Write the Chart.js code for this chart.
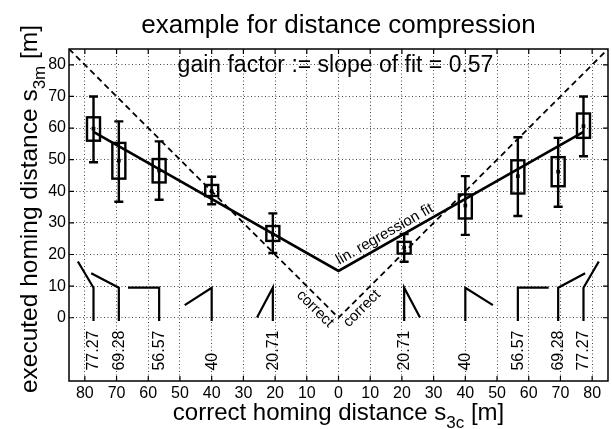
<!DOCTYPE html>
<html><head><meta charset="utf-8">
<script src="https://cdn.jsdelivr.net/npm/chart.js@4.4.0/dist/chart.umd.min.js"></script>
<style>html,body{margin:0;padding:0;background:#fff;} #wrap{width:612px;height:429px;}</style>
</head><body><div id="wrap"><canvas id="c" width="612" height="429"></canvas></div>
<script>
const FONT = '"Liberation Sans", Arial, Helvetica, sans-serif';

// correct homing distances (signed: left half mirrored)
const distances   = [-77.27, -69.28, -56.57, -40, -20.71, 20.71, 40, 56.57, 69.28, 77.27];
const valueLabels = ['77.27','69.28','56.57','40','20.71','20.71','40','56.57','69.28','77.27'];
// executed homing distances
const meanValues  = [59.8, 49.7, 46.6, 40.0, 26.3, 22.2, 35.5, 44.8, 46.2, 60.6];
const boxLow      = [56.0, 44.0, 42.8, 38.5, 24.3, 20.3, 31.4, 39.3, 41.6, 56.9];
const boxHigh     = [63.4, 55.3, 50.2, 42.0, 29.0, 24.0, 39.0, 49.8, 50.8, 64.6];
const whiskerLow  = [49.2, 36.7, 37.3, 35.9, 20.5, 17.7, 26.2, 32.2, 35.1, 51.1];
const whiskerHigh = [70.0, 62.1, 55.8, 44.6, 33.0, 26.5, 44.8, 57.1, 56.9, 70.0];

// linear regression fit (V shape) and correct line
const fitX = [-77.27, 0, 77.27];
const fitY = [58.8, 14.8, 58.8];
const correctX = [-85, 0, 85];
const correctY = [85, 0, 85];

// path sketches (two legs) drawn at each distance
const legBottom = -1;
const legTop = 9.5;
const legEndX = [-82.2, -78.0, -66.4, -48.5, -25.7, 25.7, 48.7, 66.3, 77.8, 82.1];
const legEndY = [17.8, 14.1, 9.5, 4.0, 0.1, 0.1, 4.0, 9.5, 14.1, 17.8];
const labelBottomY = -16.7;

const xTicks = [-80,-70,-60,-50,-40,-30,-20,-10,0,10,20,30,40,50,60,70,80];
const yTicks = [0,10,20,30,40,50,60,70,80];
const xRange = [-85, 85];
const yRange = [-20, 85];

const titleText = 'example for distance compression';
const gainText = 'gain factor := slope of fit = 0.57';
const fitLabel = {text:'lin. regression fit', x:14.6, y:26.4};
const correctLabels = [{text:'correct', x:-7.4, y:2.8, side:-1},{text:'correct', x:7.4, y:2.9, side:1}];

function richText(ctx, parts, size, cx, baseY){
  let w = 0;
  const widths = parts.map(p=>{
    ctx.font = (p.sub? Math.round(size*0.7): size) + 'px ' + FONT;
    const m = ctx.measureText(p.t).width; w += m; return m;
  });
  let x = cx - w/2;
  parts.forEach((p,i)=>{
    ctx.font = (p.sub? Math.round(size*0.7): size) + 'px ' + FONT;
    ctx.textAlign='left'; ctx.textBaseline='alphabetic';
    ctx.fillText(p.t, x, baseY + (p.sub? size*0.33:0));
    x += widths[i];
  });
}

const overlay = {
  id:'overlay',
  afterDatasetsDraw(chart){
    const {ctx, scales:{x, y}} = chart;
    ctx.save();
    ctx.strokeStyle='#000'; ctx.fillStyle='#000';
    // path sketches
    ctx.lineWidth = 2.2; ctx.lineJoin='miter'; ctx.lineCap='butt';
    distances.forEach((d,i)=>{
      ctx.beginPath();
      ctx.moveTo(x.getPixelForValue(d), y.getPixelForValue(legBottom));
      ctx.lineTo(x.getPixelForValue(d), y.getPixelForValue(legTop));
      ctx.lineTo(x.getPixelForValue(legEndX[i]), y.getPixelForValue(legEndY[i]));
      ctx.stroke();
    });
    // error bars
    ctx.lineWidth = 2.4;
    distances.forEach((d,i)=>{
      const px = x.getPixelForValue(d);
      const t = y.getPixelForValue(whiskerHigh[i]), b = y.getPixelForValue(whiskerLow[i]);
      ctx.beginPath();
      ctx.moveTo(px, t); ctx.lineTo(px, b);
      ctx.moveTo(px-4.5, t); ctx.lineTo(px+4.5, t);
      ctx.moveTo(px-4.5, b); ctx.lineTo(px+4.5, b);
      ctx.stroke();
    });
    // boxes
    ctx.lineWidth = 2.4;
    distances.forEach((d,i)=>{
      const px = x.getPixelForValue(d);
      const t = y.getPixelForValue(boxHigh[i]), b = y.getPixelForValue(boxLow[i]);
      ctx.strokeRect(px-6.5, t, 13, b-t);
    });
    // fit label
    const ang = Math.atan2(y.getPixelForValue(fitY[2]) - y.getPixelForValue(fitY[1]), x.getPixelForValue(fitX[2]) - x.getPixelForValue(fitX[1]));
    ctx.font = '15px ' + FONT; ctx.textAlign='center'; ctx.textBaseline='middle';
    ctx.save();
    ctx.translate(x.getPixelForValue(fitLabel.x), y.getPixelForValue(fitLabel.y));
    ctx.rotate(ang); ctx.fillText(fitLabel.text, 0, 0); ctx.restore();
    // correct labels
    const cang = Math.atan2(y.getPixelForValue(correctY[1]) - y.getPixelForValue(correctY[0]), x.getPixelForValue(correctX[1]) - x.getPixelForValue(correctX[0]));
    correctLabels.forEach(c=>{
      ctx.save();
      ctx.translate(x.getPixelForValue(c.x), y.getPixelForValue(c.y));
      ctx.rotate(c.side < 0 ? cang : -cang);
      ctx.fillText(c.text, 0, 0); ctx.restore();
    });
    // value labels (reading bottom to top)
    ctx.font = '16px ' + FONT; ctx.textAlign='left'; ctx.textBaseline='middle';
    distances.forEach((d,i)=>{
      ctx.save();
      ctx.translate(x.getPixelForValue(d)+0.5, y.getPixelForValue(labelBottomY));
      ctx.rotate(-Math.PI/2);
      ctx.fillText(valueLabels[i], 0, 0);
      ctx.restore();
    });
    ctx.restore();
  },
  afterDraw(chart){
    const {ctx, chartArea:a, scales:{x, y}} = chart;
    ctx.save();
    ctx.strokeStyle='#000'; ctx.fillStyle='#000';
    ctx.lineWidth = 1.5;
    ctx.strokeRect(a.left, a.top, a.right-a.left, a.bottom-a.top);
    ctx.lineWidth = 1.2;
    ctx.beginPath();
    xTicks.forEach(v=>{
      const px = x.getPixelForValue(v);
      ctx.moveTo(px, a.bottom); ctx.lineTo(px, a.bottom-5);
      ctx.moveTo(px, a.top); ctx.lineTo(px, a.top+5);
    });
    yTicks.forEach(v=>{
      const py = y.getPixelForValue(v);
      ctx.moveTo(a.left, py); ctx.lineTo(a.left+5, py);
      ctx.moveTo(a.right, py); ctx.lineTo(a.right-5, py);
    });
    ctx.stroke();
    // title
    ctx.font = '26px ' + FONT; ctx.textAlign='center'; ctx.textBaseline='alphabetic';
    ctx.fillText(titleText, (a.left+a.right)/2, 33);
    // gain text
    ctx.font = '23px ' + FONT;
    ctx.fillText(gainText, (a.left+a.right)/2 - 3, 72);
    // x title
    richText(ctx, [{t:'correct homing distance s'},{t:'3c',sub:true},{t:' [m]'}], 24, (a.left+a.right)/2, 420);
    // y title
    ctx.save();
    ctx.translate(37, 209);
    ctx.rotate(-Math.PI/2);
    richText(ctx, [{t:'executed homing distance s'},{t:'3m',sub:true},{t:' [m]'}], 24.5, 0, 0);
    ctx.restore();
    ctx.restore();
  }
};

new Chart(document.getElementById('c'), {
  type:'scatter',
  data:{
    datasets:[
      {label:'correct', data: correctX.map((v,i)=>({x:v, y:correctY[i]})), showLine:true, borderColor:'#000', borderWidth:1.8, borderDash:[6,4], pointRadius:0, fill:false},
      {label:'fit', data: fitX.map((v,i)=>({x:v, y:fitY[i]})), showLine:true, borderColor:'#000', borderWidth:2.6, pointRadius:0, fill:false},
      {label:'mean', data: distances.map((v,i)=>({x:v, y:meanValues[i]})), pointStyle:'rect', pointRadius:2.6, backgroundColor:'#000', borderColor:'#000', borderWidth:0}
    ]
  },
  options:{
    responsive:false, animation:false, devicePixelRatio:1,
    layout:{padding:{top:49, right:1, left:0, bottom:0}},
    plugins:{legend:{display:false}, tooltip:{enabled:false}, title:{display:false}},
    scales:{
      x:{type:'linear', min:xRange[0], max:xRange[1],
        afterBuildTicks(s){ s.ticks = xTicks.map(v=>({value:v})); },
        afterFit(s){ s.height = 48; },
        grid:{color:'#444', lineWidth:1, drawTicks:false},
        border:{display:false, dash:[1,2.5]},
        ticks:{color:'#000', font:{family:FONT, size:16}, padding:3, maxRotation:0, autoSkip:false, callback:(v)=>String(Math.abs(v))}
      },
      y:{type:'linear', min:yRange[0], max:yRange[1],
        afterBuildTicks(s){ s.ticks = yTicks.map(v=>({value:v})); },
        afterFit(s){ s.width = 69; },
        grid:{color:'#444', lineWidth:1, drawTicks:false},
        border:{display:false, dash:[1,2.5]},
        ticks:{color:'#000', font:{family:FONT, size:16}, padding:3, autoSkip:false}
      }
    }
  },
  plugins:[overlay]
});
</script></body></html>
